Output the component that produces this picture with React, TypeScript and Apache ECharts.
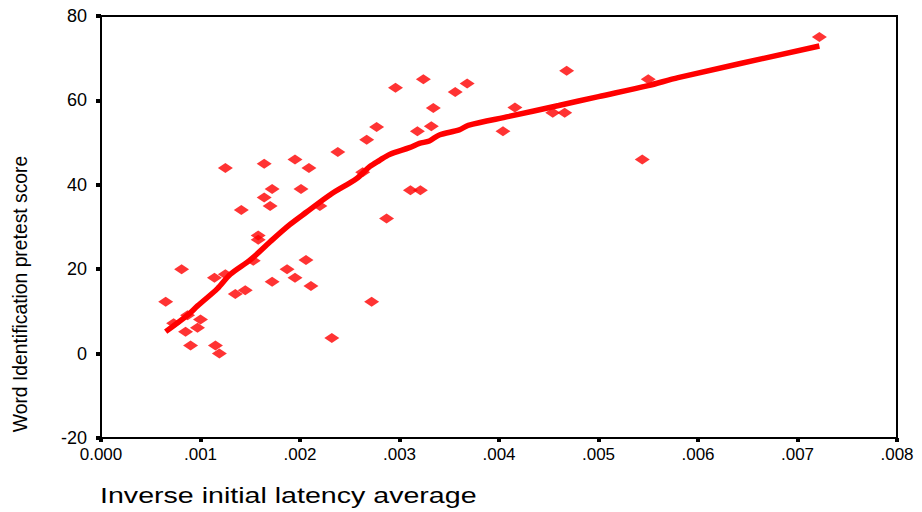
import React, { useEffect, useRef } from "react";
import * as echarts from "echarts";

const xTicks = [0, 0.001, 0.002, 0.003, 0.004, 0.005, 0.006, 0.007, 0.008];
const yTicks = [-20, 0, 20, 40, 60, 80];

const xTitle = "Inverse initial latency average";
const yTitle = "Word Identification pretest score";

// scatter points: [inverse latency, score]
const latency = [
  0.00065, 0.00081, 0.00073, 0.00085, 0.00087, 0.00097, 0.001, 0.0009, 0.00115, 0.00119,
  0.00114, 0.00125, 0.00135, 0.00145, 0.00153, 0.00158, 0.00158, 0.00141, 0.00125, 0.00164,
  0.00164, 0.0017, 0.00172, 0.00172, 0.00187, 0.00195, 0.00195, 0.00201, 0.00206, 0.00209,
  0.00211, 0.0022, 0.00232, 0.00238, 0.00263, 0.00267, 0.00272, 0.00277, 0.00287, 0.00296,
  0.00311, 0.00321, 0.00318, 0.00324, 0.00332, 0.00334, 0.00356, 0.00368, 0.00404, 0.00416,
  0.00454, 0.00466, 0.00468, 0.00544, 0.0055, 0.00722,
];
const score = [
  12.3, 20, 7.2, 5.2, 9.1, 6.1, 8.1, 1.9, 1.9, 0,
  18, 18.8, 14.1, 15, 22, 28, 27, 34, 44, 45,
  37, 35, 39, 17, 20, 18, 46, 39, 22.2, 44,
  16, 35, 3.7, 47.8, 43, 50.7, 12.3, 53.7, 32, 63,
  38.7, 38.7, 52.7, 65, 53.9, 58.2, 62, 64, 52.7, 58.3,
  57.1, 57.1, 67, 46, 65, 75,
];

// fitted curve
const fitX = [
  0.00065, 0.00088, 0.00097, 0.00117, 0.0013, 0.0015, 0.0017, 0.0019, 0.00207, 0.0023,
  0.00257, 0.0027, 0.0028, 0.0029, 0.0031, 0.0032, 0.0033, 0.0034, 0.0036, 0.00369,
  0.0041, 0.0046, 0.005, 0.0055, 0.0058, 0.00722,
];
const fitY = [
  5.2, 9.3, 11.3, 15.4, 18.8, 22.2, 26.5, 30.6, 33.6, 37.6,
  41.5, 44.3, 45.8, 47.2, 48.8, 49.8, 50.4, 51.8, 53, 54.1,
  56.2, 58.8, 60.9, 63.5, 65.4, 72.9,
];

export default function App() {
  const ref = useRef<HTMLDivElement>(null);
  useEffect(() => {
    if (!ref.current) return;
    const chart = echarts.init(ref.current, undefined, { renderer: "svg" });
    const font = "Arial, 'Liberation Sans', sans-serif";
    chart.setOption({
      animation: false,
      backgroundColor: "#ffffff",
      grid: {
        left: 101,
        top: 16,
        width: 796,
        height: 422,
        show: true,
        borderColor: "#000",
        borderWidth: 2,
        backgroundColor: "transparent",
      },
      xAxis: {
        type: "value",
        min: xTicks[0],
        max: xTicks[xTicks.length - 1],
        interval: 0.001,
        splitLine: { show: false },
        axisLine: { show: true, onZero: false, lineStyle: { color: "#000", width: 2 } },
        axisTick: { show: true, length: 4, lineStyle: { color: "#000", width: 4 } },
        axisLabel: {
          color: "#000",
          fontFamily: font,
          fontSize: 17,
          margin: 8,
          formatter: (v: number) => (v === 0 ? "0.000" : v.toFixed(3).replace(/^0/, "")),
        },
      },
      yAxis: {
        type: "value",
        min: yTicks[0],
        max: yTicks[yTicks.length - 1],
        interval: 20,
        splitLine: { show: false },
        axisLine: { show: true, onZero: false, lineStyle: { color: "#000", width: 2 } },
        axisTick: { show: true, length: 5, lineStyle: { color: "#000", width: 4 } },
        axisLabel: { color: "#000", fontFamily: font, fontSize: 18, margin: 14 },
      },
      graphic: [
        {
          type: "text",
          left: 100,
          top: 484,
          scaleX: 1.3,
          style: { text: xTitle, fontFamily: font, fontSize: 22, fill: "#000" },
        },
        {
          type: "text",
          x: 20,
          y: 294,
          rotation: Math.PI / 2,
          scaleX: 0.92,
          style: {
            text: yTitle,
            fontFamily: font,
            fontSize: 21,
            fill: "#000",
            align: "center",
            verticalAlign: "middle",
          },
        },
      ],
      series: [
        {
          type: "line",
          data: fitX.map((x, i) => [x, fitY[i]]),
          showSymbol: false,
          smooth: 0.3,
          lineStyle: { color: "#ff0000", width: 5.5 },
          z: 3,
        },
        {
          type: "scatter",
          data: latency.map((x, i) => [x, score[i]]),
          symbol: "diamond",
          symbolSize: [15, 10],
          itemStyle: { color: "#ff0000" },
          z: 4,
        },
      ],
    });
    return () => chart.dispose();
  }, []);
  return <div ref={ref} style={{ position: "fixed", left: 0, top: 0, width: 922, height: 512 }} />;
}
